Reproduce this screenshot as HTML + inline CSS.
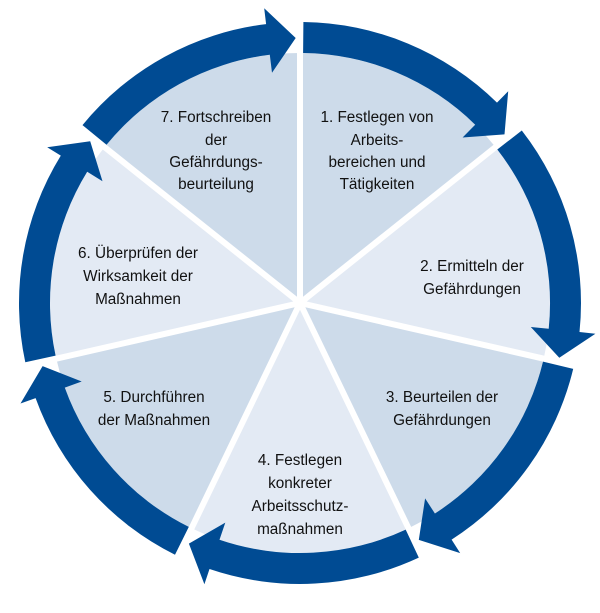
<!DOCTYPE html>
<html><head><meta charset="utf-8"><style>
html,body{margin:0;padding:0;background:#fff;width:600px;height:613px;overflow:hidden}
svg text{font-family:"Liberation Sans",sans-serif;font-size:15.3px;fill:#111;text-anchor:middle}
</style></head><body>
<svg id="s" width="600" height="613" viewBox="0 0 600 613" xmlns="http://www.w3.org/2000/svg">
<g id="pie"></g><g id="arr"></g>
<text x="377" y="122">1. Festlegen von</text>
<text x="377" y="145">Arbeits-</text>
<text x="377" y="167">bereichen und</text>
<text x="377" y="189">Tätigkeiten</text>
<text x="472" y="271">2. Ermitteln der</text>
<text x="472" y="294">Gefährdungen</text>
<text x="442" y="402">3. Beurteilen der</text>
<text x="442" y="425">Gefährdungen</text>
<text x="300" y="465">4. Festlegen</text>
<text x="300" y="488">konkreter</text>
<text x="300" y="511">Arbeitsschutz-</text>
<text x="300" y="534">maßnahmen</text>
<text x="154" y="402">5. Durchführen</text>
<text x="154" y="425">der Maßnahmen</text>
<text x="138" y="258">6. Überprüfen der</text>
<text x="138" y="281">Wirksamkeit der</text>
<text x="138" y="304">Maßnahmen</text>
<text x="216" y="122">7. Fortschreiben</text>
<text x="216" y="145">der</text>
<text x="216" y="167">Gefährdungs-</text>
<text x="216" y="189">beurteilung</text>
</svg>
<script>
var cx=300,cy=303,S=360/7;
function P(r,t){t=t*Math.PI/180;return (cx+r*Math.sin(t)).toFixed(1)+','+(cy-r*Math.cos(t)).toFixed(1);}
var pie='',arr='';
for(var i=0;i<7;i++){
 var a=i*S,b=(i+1)*S,c=(i%2==0)?'#cddbea':'#e3eaf4';
 pie+='<path d="M'+cx+','+cy+' L'+P(250,a)+' A250,250 0 0 1 '+P(250,b)+' Z" fill="'+c+'"/>';
}
for(var i=0;i<7;i++){
 var a=i*S;
 pie+='<line x1="'+cx+'" y1="'+cy+'" x2="'+P(300,a).split(',')[0]+'" y2="'+P(300,a).split(',')[1]+'" stroke="#fff" stroke-width="6"/>';
 var t0=a+0.7,hb=a+44.5,tip=a+50.5;
 arr+='<path d="M'+P(250,t0)+' L'+P(281,t0)+' A281,281 0 0 1 '+P(281,hb)+' L'+P(297,hb)+' L'+P(265,tip)+' L'+P(232,hb)+' L'+P(250,hb)+' A250,250 0 0 0 '+P(250,t0)+' Z" fill="#004b93"/>';
}
document.getElementById('pie').innerHTML=pie;
document.getElementById('arr').innerHTML=arr;
</script>
</body></html>
